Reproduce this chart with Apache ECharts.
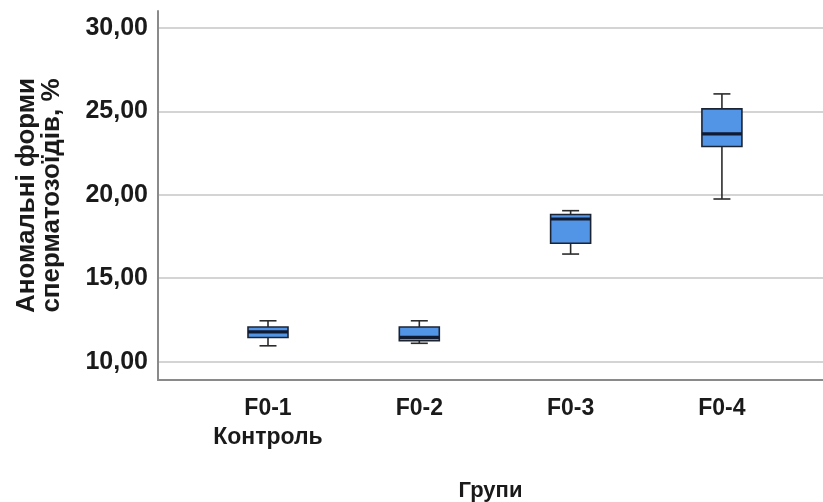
<!DOCTYPE html>
<html>
<head>
<meta charset="utf-8">
<script src="https://cdn.jsdelivr.net/npm/echarts@6/dist/echarts.min.js"></script>
<style>html,body{margin:0;padding:0;background:#fff}#c{width:823px;height:502px}</style>
</head>
<body>
<div id="c"></div>
<script>
const categories = ['F0-1\nКонтроль', 'F0-2', 'F0-3', 'F0-4'];
const mins    = [10.95, 11.10, 16.45, 19.75];
const q1s     = [11.45, 11.25, 17.10, 22.90];
const medians = [11.78, 11.45, 18.55, 23.65];
const q3s     = [12.08, 12.08, 18.82, 25.15];
const maxs    = [12.45, 12.45, 19.05, 26.05];
const yTicks  = [10, 15, 20, 25, 30];
const yName = 'Аномальні форми\nсперматозоїдів, %';
const xName = 'Групи';

const boxData = categories.map((c, i) => [i, mins[i], q1s[i], medians[i], q3s[i], maxs[i]]);
const font = '"Liberation Sans", Arial, sans-serif';

const chart = echarts.init(document.getElementById('c'));
chart.setOption({
  animation: false,
  backgroundColor: '#fff',
  grid: { left: 158, right: 0, top: 11, bottom: 122, containLabel: false, outerBoundsMode: 'none' },
  xAxis: {
    type: 'value',
    min: -0.727, max: 3.668,
    name: xName,
    nameLocation: 'middle',
    nameGap: 100,
    nameTextStyle: { fontFamily: font, fontWeight: 'bold', fontSize: 22, color: '#1a1a1a' },
    axisLine: { show: true, onZero: false, lineStyle: { color: '#8a8a8a', width: 2 } },
    axisTick: { show: false, customValues: [0, 1, 2, 3] },
    splitLine: { show: false },
    axisLabel: {
      customValues: [0, 1, 2, 3],
      formatter: v => categories[Math.round(v)],
      fontFamily: font, fontWeight: 'bold', fontSize: 23, color: '#1a1a1a',
      margin: 14, lineHeight: 29
    }
  },
  yAxis: {
    type: 'value',
    min: 8.90, max: 31.02,
    name: yName,
    nameLocation: 'middle',
    nameGap: 94,
    nameRotate: 90,
    nameTextStyle: { fontFamily: font, fontWeight: 'bold', fontSize: 26, color: '#1a1a1a', lineHeight: 25, align: 'center' },
    axisLine: { show: true, onZero: false, lineStyle: { color: '#8a8a8a', width: 2 } },
    axisTick: { show: false, customValues: yTicks },
    splitLine: { show: true, lineStyle: { color: '#d4d4d4', width: 2 } },
    axisLabel: {
      customValues: yTicks,
      formatter: v => v.toFixed(2).replace('.', ','),
      fontFamily: font, fontWeight: 'bold', fontSize: 25, color: '#1a1a1a',
      margin: 10
    }
  },
  series: [{
    type: 'custom',
    data: boxData,
    encode: { x: 0, y: [1, 2, 3, 4, 5] },
    renderItem: function (params, api) {
      const i = api.value(0);
      const x = api.coord([i, api.value(3)])[0];
      const yMin = api.coord([i, api.value(1)])[1];
      const yQ1 = api.coord([i, api.value(2)])[1];
      const yMed = api.coord([i, api.value(3)])[1];
      const yQ3 = api.coord([i, api.value(4)])[1];
      const yMax = api.coord([i, api.value(5)])[1];
      const bw = 40, cw = 17;
      const wStyle = { stroke: '#2b2b2b', lineWidth: 1.6 };
      return {
        type: 'group',
        children: [
          { type: 'line', shape: { x1: x, y1: yMax, x2: x, y2: yQ3 }, style: wStyle },
          { type: 'line', shape: { x1: x, y1: yQ1, x2: x, y2: yMin }, style: wStyle },
          { type: 'line', shape: { x1: x - cw / 2, y1: yMax, x2: x + cw / 2, y2: yMax }, style: wStyle },
          { type: 'line', shape: { x1: x - cw / 2, y1: yMin, x2: x + cw / 2, y2: yMin }, style: wStyle },
          { type: 'rect', shape: { x: x - bw / 2, y: yQ3, width: bw, height: yQ1 - yQ3 },
            style: { fill: '#5294e6', stroke: '#1c2433', lineWidth: 1.6 } },
          { type: 'line', shape: { x1: x - bw / 2, y1: yMed, x2: x + bw / 2, y2: yMed },
            style: { stroke: '#101a30', lineWidth: 3.2 } }
        ]
      };
    }
  }]
});
</script>
</body>
</html>
